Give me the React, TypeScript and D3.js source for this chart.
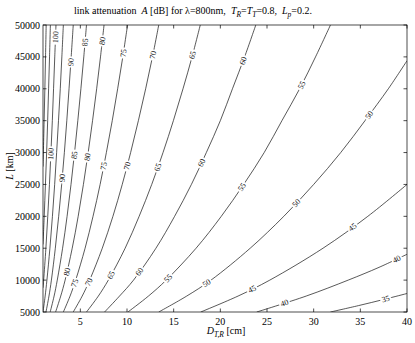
import React, { useEffect, useRef } from 'react';
import * as d3 from 'd3';

// contour levels (dB)
const levels = [35, 40, 45, 50, 55, 60, 65, 70, 75, 80, 85, 90, 95, 100, 105, 110];

// contour lines, [D (cm), L (km)]
const c35 = [[31.8, 5000], [34.8, 6000], [37.6, 7000], [40, 7900]];
const c40 = [[23.9, 5000], [29.2, 7500], [33.7, 10000], [37.0, 12000], [40, 14050]];
const c45 = [[17.9, 5000], [21.9, 7500], [25.3, 10000], [31.0, 15000], [35.8, 20000], [40, 25000]];
const c50 = [[13.4, 5000], [16.4, 7500], [19.0, 10000], [23.2, 15000], [26.8, 20000], [30.0, 25000], [32.9, 30000], [35.5, 35000], [38.0, 40000], [40, 44400]];
const c55 = [[10.1, 5000], [12.3, 7500], [14.2, 10000], [17.4, 15000], [20.1, 20000], [22.5, 25000], [24.7, 30000], [26.6, 35000], [28.5, 40000], [30.2, 45000], [31.8, 50000]];
const c60 = [[7.6, 5000], [9.2, 7500], [10.7, 10000], [13.1, 15000], [15.1, 20000], [16.9, 25000], [18.5, 30000], [20.0, 35000], [21.3, 40000], [22.6, 45000], [23.8, 50000]];
const c65 = [[5.66, 5000], [6.93, 7500], [8.0, 10000], [9.8, 15000], [11.3, 20000], [12.65, 25000], [13.86, 30000], [14.97, 35000], [16.0, 40000], [16.97, 45000], [17.85, 50000]];
const c70 = [[4.24, 5000], [5.2, 7500], [6.0, 10000], [7.35, 15000], [8.49, 20000], [9.49, 25000], [10.39, 30000], [11.22, 35000], [12.0, 40000], [12.73, 45000], [13.4, 50000]];
const c75 = [[3.18, 5000], [3.9, 7500], [4.5, 10000], [5.51, 15000], [6.36, 20000], [7.12, 25000], [7.79, 30000], [8.42, 35000], [9.0, 40000], [9.55, 45000], [10.06, 50000]];
const c80 = [[2.35, 5000], [2.9, 7500], [3.37, 10000], [4.13, 15000], [4.77, 20000], [5.33, 25000], [5.84, 30000], [6.31, 35000], [6.75, 40000], [7.16, 45000], [7.54, 50000]];
const c85 = [[1.77, 5000], [2.19, 7500], [2.53, 10000], [3.1, 15000], [3.58, 20000], [4.0, 25000], [4.38, 30000], [4.73, 35000], [5.06, 40000], [5.37, 45000], [5.66, 50000]];
const c90 = [[1.32, 5000], [1.64, 7500], [1.9, 10000], [2.32, 15000], [2.68, 20000], [3.0, 25000], [3.29, 30000], [3.55, 35000], [3.79, 40000], [4.02, 45000], [4.24, 50000]];
const c95 = [[1.0, 5000], [1.23, 7500], [1.42, 10000], [1.74, 15000], [2.01, 20000], [2.25, 25000], [2.46, 30000], [2.66, 35000], [2.85, 40000], [3.02, 45000], [3.18, 50000]];
const c100 = [[1.0, 8800], [1.07, 10000], [1.31, 15000], [1.51, 20000], [1.69, 25000], [1.85, 30000], [2.0, 35000], [2.13, 40000], [2.26, 45000], [2.39, 50000]];
const c105 = [[1.0, 15600], [1.13, 20000], [1.26, 25000], [1.39, 30000], [1.5, 35000], [1.6, 40000], [1.7, 45000], [1.79, 50000]];
const c110 = [[1.0, 27800], [1.04, 30000], [1.12, 35000], [1.2, 40000], [1.27, 45000], [1.34, 50000]];
const contours = [c35, c40, c45, c50, c55, c60, c65, c70, c75, c80, c85, c90, c95, c100, c105, c110];

// inline labels: level and the L (km) where it sits on its line
const labelLevels = [100, 100, 90, 90, 85, 85, 80, 80, 80, 75, 75, 75, 70, 70, 70, 65, 65, 65, 60, 60, 60, 55, 55, 55, 50, 50, 50, 45, 45, 40, 40, 35];
const labelL = [48100, 29800, 44200, 26000, 47300, 29600, 47500, 29300, 11300, 45600, 27900, 9550, 45300, 27900, 9700, 45300, 27700, 10800, 44400, 28400, 11300, 40600, 24600, 10300, 35900, 22100, 9550, 18300, 8600, 13300, 6400, 7040];

const xTicks = [5, 10, 15, 20, 25, 30, 35, 40];
const yTicks = [5000, 10000, 15000, 20000, 25000, 30000, 35000, 40000, 45000, 50000];

const FONT = '"Liberation Serif", "Times New Roman", serif';

const App = () => {
    const ref = useRef<SVGSVGElement>(null);

    useEffect(() => {
        const svg = d3.select(ref.current);
        svg.selectAll('*').remove();

        const x = d3.scaleLinear().domain([1, 40]).range([43, 407]);
        const y = d3.scaleLinear().domain([5000, 50000]).range([312, 25]);
        const [x0, x1] = x.range();
        const [y1, y0] = y.range();

        const defs = svg.append('defs');
        defs.append('clipPath').attr('id', 'plotclip')
            .append('rect').attr('x', x0).attr('y', y0).attr('width', x1 - x0).attr('height', y1 - y0);

        const line = d3.line<number[]>()
            .x(d => x(d[0]))
            .y(d => y(d[1]))
            .curve(d3.curveCatmullRom);

        // label placement along each line
        const place = (pts: number[][], L: number) => {
            let i = 0;
            while (i < pts.length - 2 && pts[i + 1][1] < L) i++;
            const a = pts[i], b = pts[i + 1];
            const t = (L - a[1]) / (b[1] - a[1]);
            const D = a[0] + t * (b[0] - a[0]);
            const ax = x(a[0]), ay = y(a[1]), bx = x(b[0]), by = y(b[1]);
            let ang = Math.atan2(by - ay, bx - ax) * 180 / Math.PI;
            if (ang > 90) ang -= 180;
            if (ang < -90) ang += 180;
            return { px: x(D), py: y(L), ang };
        };

        const labels = labelLevels.map((lev, i) => {
            const pts = contours[levels.indexOf(lev)];
            return { lev, ...place(pts, labelL[i]) };
        });

        // masks so each line breaks under its own labels
        levels.forEach(lev => {
            const m = defs.append('mask').attr('id', `m${lev}`).attr('maskUnits', 'userSpaceOnUse')
                .attr('x', 0).attr('y', 0).attr('width', 415).attr('height', 343);
            m.append('rect').attr('width', 415).attr('height', 343).attr('fill', '#fff');
            labels.filter(l => l.lev === lev).forEach(l => {
                const w = String(lev).length * 4 + 3;
                m.append('rect')
                    .attr('x', -w / 2).attr('y', -3.5).attr('width', w).attr('height', 7)
                    .attr('fill', '#000')
                    .attr('transform', `translate(${l.px},${l.py}) rotate(${l.ang})`);
            });
        });

        const plot = svg.append('g').attr('clip-path', 'url(#plotclip)');
        plot.selectAll('path.c')
            .data(contours)
            .enter()
            .append('path')
            .attr('class', 'c')
            .attr('d', d => line(d))
            .attr('fill', 'none')
            .attr('stroke', '#111')
            .attr('stroke-width', 0.7)
            .attr('mask', (d, i) => `url(#m${levels[i]})`);

        plot.selectAll('text.lab')
            .data(labels)
            .enter()
            .append('text')
            .attr('class', 'lab')
            .attr('transform', d => `translate(${d.px},${d.py}) rotate(${d.ang})`)
            .attr('text-anchor', 'middle')
            .attr('dy', '0.33em')
            .attr('font-family', FONT)
            .attr('font-size', 8)
            .attr('fill', '#111')
            .text(d => d.lev);

        // axes box and inward ticks on all sides
        const tl = 3.5;
        const ax = svg.append('g').attr('stroke', '#000').attr('stroke-width', 0.7).attr('fill', 'none');
        ax.append('rect').attr('x', x0).attr('y', y0).attr('width', x1 - x0).attr('height', y1 - y0);
        xTicks.forEach(t => {
            ax.append('line').attr('x1', x(t)).attr('x2', x(t)).attr('y1', y1).attr('y2', y1 - tl);
            ax.append('line').attr('x1', x(t)).attr('x2', x(t)).attr('y1', y0).attr('y2', y0 + tl);
        });
        yTicks.forEach(t => {
            ax.append('line').attr('x1', x0).attr('x2', x0 + tl).attr('y1', y(t)).attr('y2', y(t));
            ax.append('line').attr('x1', x1).attr('x2', x1 - tl).attr('y1', y(t)).attr('y2', y(t));
        });

        const txt = svg.append('g').attr('font-family', FONT).attr('font-size', 10).attr('fill', '#000');
        txt.selectAll('text.xt').data(xTicks).enter().append('text')
            .attr('class', 'xt')
            .attr('x', d => x(d)).attr('y', y1 + 13)
            .attr('text-anchor', 'middle')
            .text(d => d);
        txt.selectAll('text.yt').data(yTicks).enter().append('text')
            .attr('class', 'yt')
            .attr('x', x0 - 3).attr('y', d => y(d)).attr('dy', '0.35em')
            .attr('text-anchor', 'end')
            .text(d => d);

        // x label D_{T,R} [cm]
        const xl = txt.append('text').attr('x', 226).attr('y', 334).attr('text-anchor', 'middle');
        xl.append('tspan').attr('font-style', 'italic').text('D');
        xl.append('tspan').attr('font-style', 'italic').attr('font-size', 7.5).attr('dy', 3).text('T,R');
        xl.append('tspan').attr('dy', -3).text(' [cm]');

        // y label L [km]
        const yl = txt.append('text').attr('transform', 'translate(13,166) rotate(-90)').attr('text-anchor', 'middle');
        yl.append('tspan').attr('font-style', 'italic').text('L');
        yl.append('tspan').text(' [km]');

        // title
        const ti = txt.append('text').attr('x', 193).attr('y', 14).attr('text-anchor', 'middle')
            .style('white-space', 'pre');
        ti.append('tspan').text('link attenuation  ');
        ti.append('tspan').attr('font-style', 'italic').text('A');
        ti.append('tspan').text(' [dB] for \u03bb=800nm,  ');
        ti.append('tspan').attr('font-style', 'italic').text('T');
        ti.append('tspan').attr('font-style', 'italic').attr('font-size', 7.5).attr('dy', 3).text('R');
        ti.append('tspan').attr('dy', -3).text('=');
        ti.append('tspan').attr('font-style', 'italic').text('T');
        ti.append('tspan').attr('font-style', 'italic').attr('font-size', 7.5).attr('dy', 3).text('T');
        ti.append('tspan').attr('dy', -3).text('=0.8,  ');
        ti.append('tspan').attr('font-style', 'italic').text('L');
        ti.append('tspan').attr('font-style', 'italic').attr('font-size', 7.5).attr('dy', 3).text('p');
        ti.append('tspan').attr('dy', -3).text('=0.2.');
    }, []);

    return (
        <svg
            ref={ref}
            width={415}
            height={343}
            style={{ position: 'absolute', left: 0, top: 0, background: '#fff' }}
        />
    );
};

export default App;
